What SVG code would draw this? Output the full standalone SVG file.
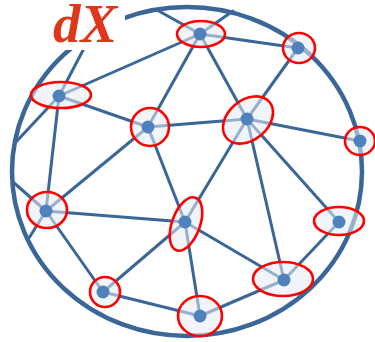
<svg xmlns="http://www.w3.org/2000/svg" width="375" height="342" viewBox="0 0 375 342">
<style>
.ring{fill:none;stroke:#3B6698;stroke-width:4.5}
.e line{stroke:#3B6698;stroke-width:3;stroke-linecap:round}
.h{fill:#E6EDF6;fill-opacity:0.55;stroke:#FF0000;stroke-width:2.6}
.d{fill:#4F81BD}
.t{font-family:"Liberation Serif",serif;font-weight:bold;font-style:italic;font-size:55px;fill:#E0361A}
</style>
<rect width="375" height="342" fill="#FFFFFF"/>
<ellipse class="ring" cx="187" cy="171.5" rx="175" ry="164.5"/>
<g id="connectors" class="e">
<line x1="200" y1="34" x2="298" y2="48"/>
<line x1="200" y1="34" x2="59" y2="96"/>
<line x1="200" y1="34" x2="148" y2="127"/>
<line x1="200" y1="34" x2="247" y2="119"/>
<line x1="200" y1="34" x2="157" y2="10"/>
<line x1="200" y1="34" x2="233" y2="11"/>
<line x1="298" y1="48" x2="247" y2="119"/>
<line x1="247" y1="119" x2="148" y2="127"/>
<line x1="247" y1="119" x2="360" y2="141"/>
<line x1="247" y1="119" x2="185" y2="222"/>
<line x1="247" y1="119" x2="284" y2="280"/>
<line x1="247" y1="119" x2="339" y2="222"/>
<line x1="59" y1="96" x2="148" y2="127"/>
<line x1="59" y1="96" x2="46" y2="211"/>
<line x1="59" y1="96" x2="15" y2="143"/>
<line x1="59" y1="96" x2="91" y2="35"/>
<line x1="148" y1="127" x2="46" y2="211"/>
<line x1="148" y1="127" x2="185" y2="222"/>
<line x1="46" y1="211" x2="185" y2="222"/>
<line x1="46" y1="211" x2="103" y2="292"/>
<line x1="46" y1="211" x2="13" y2="182"/>
<line x1="46" y1="211" x2="29" y2="238"/>
<line x1="185" y1="222" x2="103" y2="292"/>
<line x1="185" y1="222" x2="200" y2="316"/>
<line x1="185" y1="222" x2="284" y2="280"/>
<line x1="103" y1="292" x2="200" y2="316"/>
<line x1="200" y1="316" x2="284" y2="280"/>
<line x1="284" y1="280" x2="339" y2="222"/>
</g>
<rect x="38" y="0" width="87" height="50" fill="#FFFFFF"/>
<g id="n1"><ellipse class="h" cx="201" cy="34" rx="24" ry="13"/><circle class="d" cx="200" cy="34" r="6.5"/></g>
<g id="n2"><ellipse class="h" cx="299" cy="48" rx="16" ry="15"/><circle class="d" cx="298" cy="48" r="6.5"/></g>
<g id="n3"><ellipse class="h" cx="248" cy="120" rx="28" ry="20" transform="rotate(-40 248 120)"/><circle class="d" cx="247" cy="119" r="6.5"/></g>
<g id="n4"><ellipse class="h" cx="360" cy="141" rx="15" ry="14"/><circle class="d" cx="360" cy="141" r="6.5"/></g>
<g id="n5"><ellipse class="h" cx="61" cy="95" rx="30" ry="13"/><circle class="d" cx="59" cy="96" r="6.5"/></g>
<g id="n6"><ellipse class="h" cx="150" cy="127" rx="19" ry="19"/><circle class="d" cx="148" cy="127" r="6.5"/></g>
<g id="n7"><ellipse class="h" cx="47" cy="210" rx="20" ry="18"/><circle class="d" cx="46" cy="211" r="6.5"/></g>
<g id="n8"><ellipse class="h" cx="186" cy="224" rx="28" ry="14" transform="rotate(-70 186 224)"/><circle class="d" cx="185" cy="222" r="6.5"/></g>
<g id="n9"><ellipse class="h" cx="105" cy="292" rx="15" ry="15"/><circle class="d" cx="103" cy="292" r="6.5"/></g>
<g id="n10"><ellipse class="h" cx="200" cy="316" rx="22" ry="20"/><circle class="d" cx="200" cy="316" r="6.5"/></g>
<g id="n11"><ellipse class="h" cx="283" cy="279" rx="30" ry="17"/><circle class="d" cx="284" cy="280" r="6.5"/></g>
<g id="n12"><ellipse class="h" cx="339" cy="221" rx="25" ry="14"/><circle class="d" cx="339" cy="222" r="6.5"/></g>
<text class="t" x="53" y="42">dX</text>
</svg>
